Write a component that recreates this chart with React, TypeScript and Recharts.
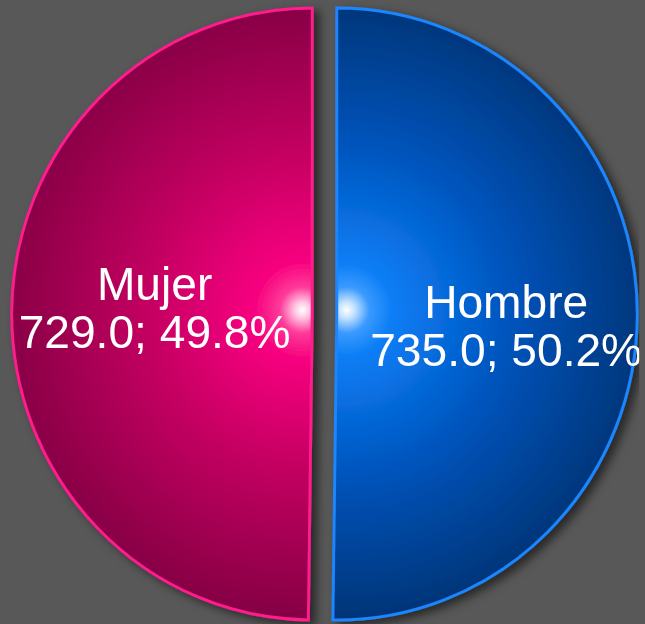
import { PieChart, Pie, Cell } from 'recharts'

const categories = ['Mujer', 'Hombre']
const values = [729.0, 735.0]
const sliceColors = ['#ff1a8c', '#1a86ff']

const total = values.reduce((a, b) => a + b, 0)
const pieData = categories.map((name, i) => ({
  name,
  value: values[i],
  pct: (values[i] / total) * 100,
}))

const W = 645
const H = 624
const R = 306
const CY = 314

// each half gets its own pie so it can be pulled apart from the other
const halves = [
  { key: 'Mujer', cx: 312, grad: 'gradMujer' },
  { key: 'Hombre', cx: 337, grad: 'gradHombre' },
]

const RAD = Math.PI / 180

function makeLabel(target: string) {
  return (props: any) => {
    const { cx, cy, midAngle, outerRadius, payload } = props
    if (payload.name !== target) return null
    const r = outerRadius * 0.545
    const a = midAngle - 2.8 // labels sit on a slightly tilted axis
    const x = cx + r * Math.cos(-a * RAD) + 6
    const y = cy + r * Math.sin(-a * RAD)
    return (
      <text
        x={x}
        y={y}
        textAnchor="middle"
        fill="#ffffff"
        fontSize={47}
        fontFamily="'Liberation Sans', Arial, sans-serif"
      >
        <tspan x={x} dy={-5}>{payload.name}</tspan>
        <tspan x={x} dy={48}>
          {payload.value.toFixed(1)}; {payload.pct.toFixed(1)}%
        </tspan>
      </text>
    )
  }
}

export default function App() {
  return (
    <div style={{ position: 'fixed', left: 0, top: 0, width: W, height: H, background: '#585858', overflow: 'hidden' }}>
      <div style={{ transform: 'scaleX(0.982)', transformOrigin: '324.5px 314px' }}>
        <PieChart width={W} height={H} margin={{ top: 0, right: 0, bottom: 0, left: 0 }}>
          <defs>
            <radialGradient id="gradMujer" gradientUnits="userSpaceOnUse" cx={302} cy={310} r={330}>
              <stop offset="0" stopColor="#ffffff" />
              <stop offset="0.025" stopColor="#ffc4e2" />
              <stop offset="0.07" stopColor="#ff3a9a" />
              <stop offset="0.14" stopColor="#f80680" />
              <stop offset="0.5" stopColor="#c0005f" />
              <stop offset="1" stopColor="#7c0040" />
            </radialGradient>
            <radialGradient id="gradHombre" gradientUnits="userSpaceOnUse" cx={347} cy={310} r={330}>
              <stop offset="0" stopColor="#ffffff" />
              <stop offset="0.025" stopColor="#c4e2ff" />
              <stop offset="0.07" stopColor="#3a9aff" />
              <stop offset="0.14" stopColor="#0c7ef6" />
              <stop offset="0.5" stopColor="#0054bc" />
              <stop offset="1" stopColor="#00306e" />
            </radialGradient>
            <filter id="shadow" x="-10%" y="-10%" width="120%" height="120%">
              <feDropShadow dx={6} dy={4} stdDeviation={5} floodColor="#000000" floodOpacity={0.55} />
            </filter>
          </defs>
          {halves.map((h) => (
            <Pie
              key={h.key}
              data={pieData}
              dataKey="value"
              nameKey="name"
              cx={h.cx}
              cy={CY}
              innerRadius={0}
              outerRadius={R}
              startAngle={90}
              endAngle={450}
              labelLine={false}
              label={makeLabel(h.key)}
              isAnimationActive={false}
              style={{ filter: 'url(#shadow)' }}
            >
              {pieData.map((d, i) => (
                <Cell
                  key={d.name}
                  fill={d.name === h.key ? `url(#${h.grad})` : 'transparent'}
                  stroke={d.name === h.key ? sliceColors[i] : 'none'}
                  strokeWidth={3}
                />
              ))}
            </Pie>
          ))}
        </PieChart>
      </div>
    </div>
  )
}
